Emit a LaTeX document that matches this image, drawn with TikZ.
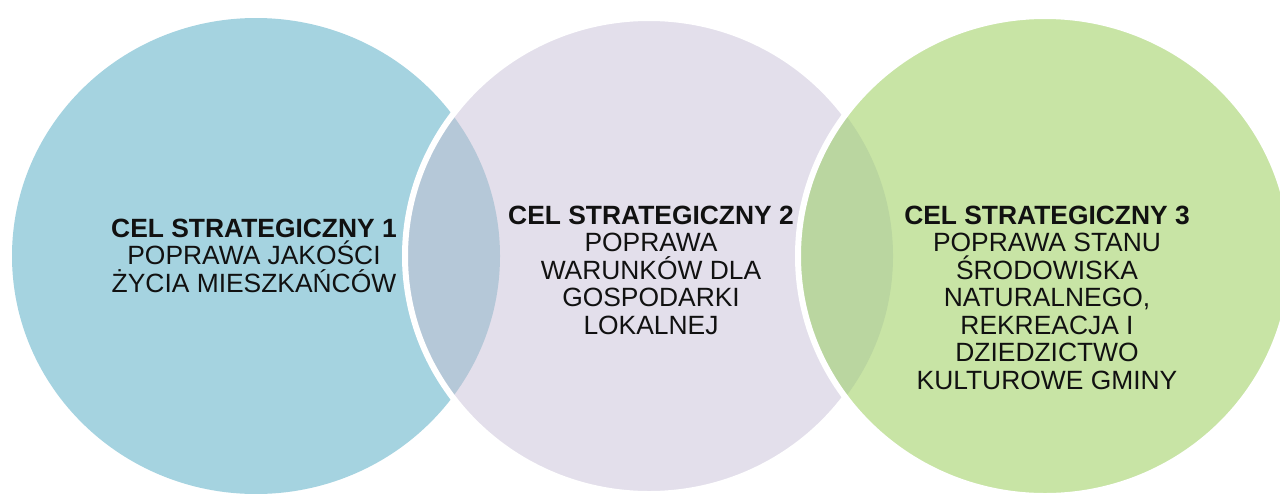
\documentclass[tikz,border=0pt]{standalone}
\usepackage{fontspec}
\setmainfont{Liberation Sans}
\usetikzlibrary{positioning}
\definecolor{celblue}{HTML}{A5D3E0}
\definecolor{cellilac}{HTML}{E3DFEB}
\definecolor{celgreen}{HTML}{C8E4A5}
\definecolor{lensblue}{HTML}{B5C8D8}
\definecolor{lensgreen}{HTML}{BAD6A0}
\definecolor{celink}{HTML}{111111}

\begin{document}
\begin{tikzpicture}[
        x=0.75pt,y=-0.75pt,
        rim/.style={draw=white,line width=4.5pt},
        goal/.style={inner sep=0pt,align=center,anchor=north,text=celink,
          font=\fontsize{19.8}{20.6}\selectfont}
      ]
        \useasboundingbox (0,0) rectangle (1280,493);
        \clip (0,0) rectangle (1280,493);

        \fill[celblue] (256,256) ellipse [x radius=244,y radius=238];

        \fill[cellilac] (649,256) ellipse [x radius=244,y radius=238];
        \begin{scope}
          \clip (256,256) ellipse [x radius=244,y radius=238];
          \fill[lensblue] (649,256) ellipse [x radius=244,y radius=238];
        \end{scope}
        \draw[rim] (649,256) ellipse [x radius=244,y radius=238];

        \fill[celgreen] (1045,256) ellipse [x radius=247,y radius=240];
        \begin{scope}
          \clip (649,256) ellipse [x radius=244,y radius=238];
          \fill[lensgreen] (1045,256) ellipse [x radius=247,y radius=240];
        \end{scope}
        \draw[rim] (1045,256) ellipse [x radius=247,y radius=240];

        \node[goal] (cel1) at (254,218.5) {
          \textbf{CEL STRATEGICZNY 1}\\
          POPRAWA JAKOŚCI\\
          ŻYCIA MIESZKAŃCÓW};
        \node[goal] (cel2) at (651,205.5) {
          \textbf{CEL STRATEGICZNY 2}\\
          POPRAWA\\
          WARUNKÓW DLA\\
          GOSPODARKI\\
          LOKALNEJ};
        \node[goal] (cel3) at (1047,205.5) {
          \textbf{CEL STRATEGICZNY 3}\\
          POPRAWA STANU\\
          ŚRODOWISKA\\
          NATURALNEGO,\\
          REKREACJA I\\
          DZIEDZICTWO\\
          KULTUROWE GMINY};
      \end{tikzpicture}
\end{document}
